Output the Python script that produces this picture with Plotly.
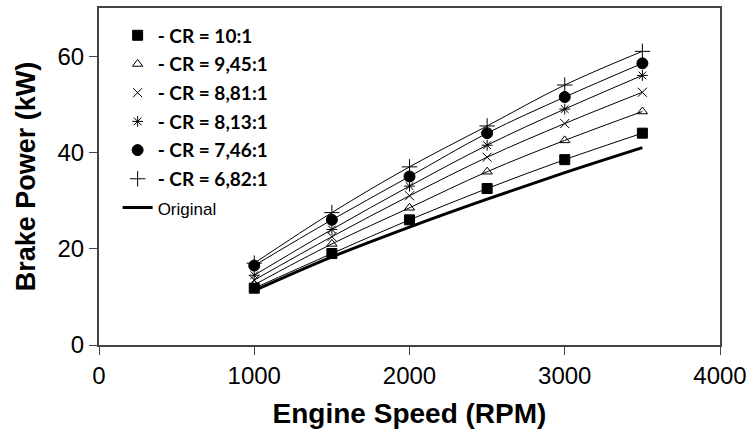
import plotly.graph_objects as go

rpm = [1000, 1500, 2000, 2500, 3000, 3500]
cr_10_00 = [11.8, 19.0, 26.0, 32.5, 38.5, 44.0]
cr_9_45 = [12.5, 21.0, 28.5, 36.0, 42.5, 48.5]
cr_8_81 = [13.5, 22.5, 31.0, 39.0, 46.0, 52.5]
cr_8_13 = [14.5, 24.0, 33.0, 41.5, 49.0, 56.0]
cr_7_46 = [16.5, 26.0, 35.0, 44.0, 51.5, 58.5]
cr_6_82 = [17.0, 27.5, 37.0, 45.5, 54.0, 61.0]
original = [11.3, 18.3, 24.5, 30.3, 35.8, 41.0]

labels = ["- CR = 10:1", "- CR = 9,45:1", "- CR = 8,81:1", "- CR = 8,13:1", "- CR = 7,46:1", "- CR = 6,82:1"]
series = [cr_10_00, cr_9_45, cr_8_81, cr_8_13, cr_7_46, cr_6_82]
symbols = ["square", "triangle-up-open", "x-thin-open", "asterisk-open", "circle", "cross-thin-open"]
sizes = [10, 9, 9, 9, 11, 11]

fig = go.Figure()
# fit lines
for ys in series:
    fig.add_trace(go.Scatter(x=rpm, y=ys, mode="lines", line=dict(color="black", width=1, shape="spline"),
                             showlegend=False, hoverinfo="skip"))
fig.add_trace(go.Scatter(x=rpm, y=original, mode="lines", line=dict(color="black", width=3, shape="spline"),
                         showlegend=False, hoverinfo="skip"))
for i, (ys, lab, sym, sz) in enumerate(zip(series, labels, symbols, sizes)):
    fig.add_trace(go.Scatter(x=rpm, y=ys, mode="markers", name="<b>" + lab + "</b>",
                             legendgroup=str(i),
                             marker=dict(symbol=sym, size=sz, color="black",
                                         line=dict(color="black", width=1))))
fig.add_trace(go.Scatter(x=[None], y=[None], mode="lines",
                         name="<span style='font-family:Liberation Sans;font-size:17px'>Original</span>",
                         legendgroup="orig", line=dict(color="black", width=3)))

fig.update_layout(
    width=753, height=438,
    margin=dict(l=99, r=30, t=6, b=93),
    plot_bgcolor="white", paper_bgcolor="white",
    font=dict(family="Liberation Sans, Arial", color="black"),
    legend=dict(x=0.03, y=0.975, xanchor="left", yanchor="top", bgcolor="rgba(0,0,0,0)",
                font=dict(family="Lato", size=19, color="black"), tracegroupgap=1,
                itemwidth=30),
    xaxis=dict(range=[0, 4000], tickvals=[0, 1000, 2000, 3000, 4000], ticks="outside", ticklen=8,
               tickcolor="#444", showline=True, linecolor="#444", linewidth=2, mirror=True,
               showgrid=False, zeroline=False, tickfont=dict(size=24),
               title=dict(text="<b>Engine Speed (RPM)</b>", font=dict(size=28), standoff=16)),
    yaxis=dict(range=[0, 70], tickvals=[0, 20, 40, 60], ticks="outside", ticklen=8,
               tickcolor="#444", showline=True, linecolor="#444", linewidth=2, mirror=True,
               showgrid=False, zeroline=False, tickfont=dict(size=24),
               title=dict(text="<b>Brake Power (kW)</b>", font=dict(size=27), standoff=14)),
)
fig.write_html("out.html", config={"displayModeBar": False},
               post_script="document.body.style.margin='0';")
